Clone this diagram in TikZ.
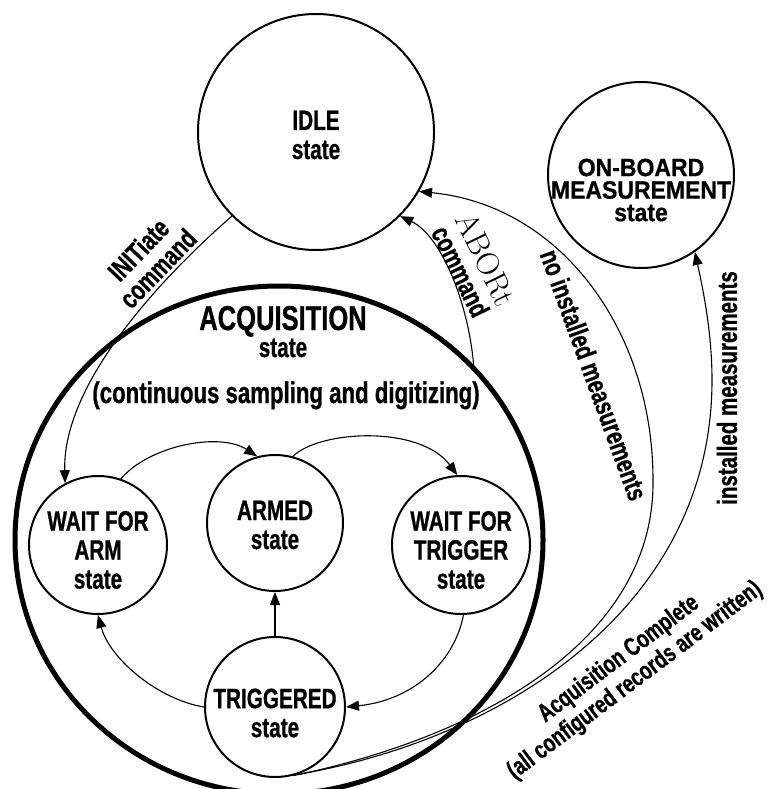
\documentclass[tikz,border=0pt]{standalone}
\usepackage{fontspec}
\usetikzlibrary{arrows.meta,shapes.geometric}
\newfontfamily\cnd{Liberation Sans}[FakeStretch=0.74, BoldFeatures={FakeBold=0.8}]
\newfontfamily\wid{Liberation Sans}[FakeStretch=0.92, BoldFeatures={FakeBold=0.8}]
\tikzset{
  st/.style={circle, draw, line width=2pt, inner sep=0pt},
  conn/.style={line width=1.1pt, -{Triangle[length=13pt,width=10pt]}},
  txt/.style={font=\cnd\bfseries\fontsize{28}{29}\selectfont, align=center, inner sep=0pt},
  lab/.style={font=\cnd\bfseries\fontsize{27.7}{27}\selectfont, align=center, inner sep=0pt},
}
\begin{document}
\begin{tikzpicture}[x=1pt,y=-1pt]
\useasboundingbox (0,0) rectangle (768,789);
% states
\node[st, minimum size=236pt] (idle) at (316,132) {};
\node[st, minimum size=186pt] (onb) at (641,175) {};
\node[ellipse, draw, line width=5pt, minimum width=528pt, minimum height=508pt, inner sep=0pt] (acq) at (279,540) {};
\node[st, minimum size=138pt] (wfa) at (98,545) {};
\node[st, minimum size=136pt] (armed) at (275,523) {};
\node[st, minimum size=138pt] (wft) at (461,545) {};
\node[st, minimum size=140pt] (trig) at (275,707) {};
% state texts
\node[txt] (idlet) at (316,135) {IDLE\\state};
\node[font=\wid\bfseries\fontsize{25}{22.5}\selectfont, align=center, inner sep=0pt] (onbt) at (641,190) {ON-BOARD\\MEASUREMENT\\state};
\node[txt] (wfat) at (98,550) {WAIT FOR\\ARM\\state};
\node[txt] (armedt) at (275,525) {ARMED\\state};
\node[txt] (wftt) at (461,550) {WAIT FOR\\TRIGGER\\state};
\node[txt] (trigt) at (275,713) {TRIGGERED\\state};
\node[font=\cnd\bfseries\fontsize{34.5}{36}\selectfont, anchor=base, inner sep=0pt] (acqt) at (283,330) {ACQUISITION};
\node[txt, anchor=base] (acqs) at (283,357) {state};
\node[font=\cnd\bfseries\fontsize{30}{32}\selectfont, anchor=base, inner sep=0pt] (acqp) at (286,403) {(continuous sampling and digitizing)};
% labels
\node[lab, rotate=46] (initl) at (148,259) {INITiate\\command};
\node[lab, rotate=-64] (abortl) at (474,265) {{\rmfamily\mdseries\fontsize{32}{27}\selectfont ABORt}\\command};
\node[lab, rotate=-70] (noinst) at (594,375) {no installed measurements};
\node[lab, rotate=90] (inst) at (727,388) {installed measurements};
\node[font=\cnd\bfseries\fontsize{25.5}{27}\selectfont, align=center, inner sep=0pt, rotate=37] (acql) at (627,670) {Acquisition Complete\\(all configured records are written)};
% connectors
\coordinate (pa) at (653,480);
\coordinate (pb) at (712,380);
\draw[conn] (idle.225) .. controls (170,270) and (62,380) .. (wfa.118);
\draw[conn] (acq.42.5) .. controls (468,300) and (440,235) .. (idle.-45);
\draw[conn] (trig.-75) .. controls (480,737) and (655,640) .. (pa) .. controls (653,330) and (560,205) .. (idle.-30);
\draw[conn] (trig.-72) .. controls (500,740) and (712,610) .. (pb) .. controls (712,330) and (702,285) .. (onb.-55);
\draw[conn] (wfa.71) .. controls (150,445) and (220,432) .. (armed.105);
\draw[conn] (armed.75) .. controls (320,430) and (420,425) .. (wft.93);
\draw[conn] (wft.-88) .. controls (455,660) and (415,700) .. (trig.0);
\draw[conn] (trig.180) .. controls (160,700) and (110,660) .. (wfa.-90);
\draw[conn] (trig.north) -- (armed.south);
\end{tikzpicture}
\end{document}
